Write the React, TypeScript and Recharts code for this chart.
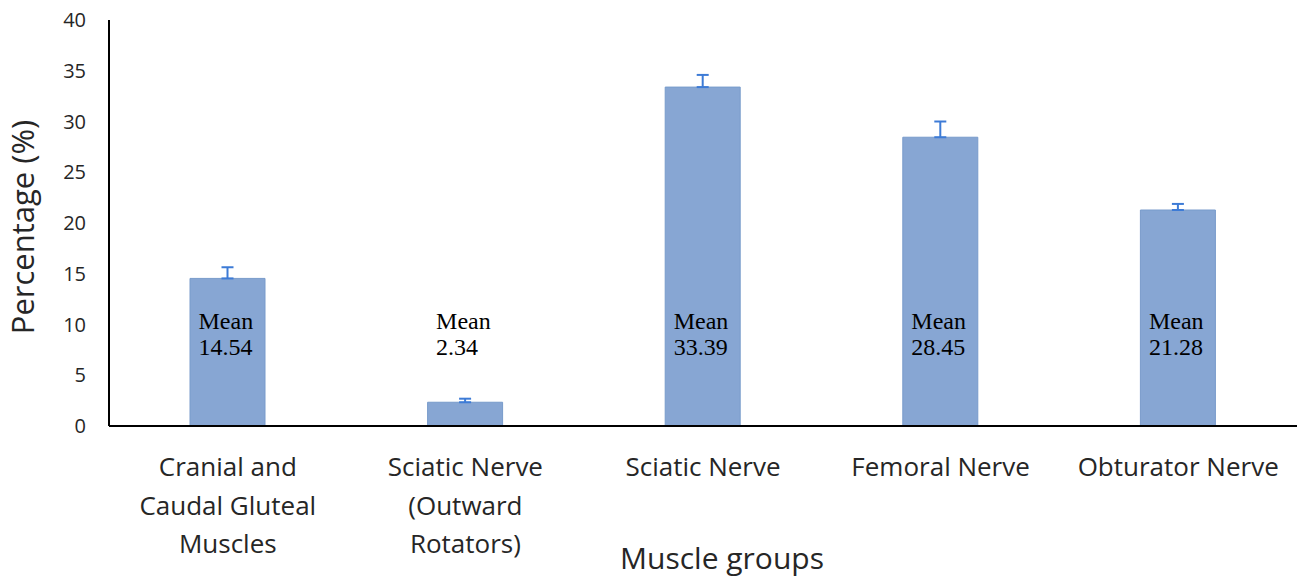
import { BarChart, Bar, XAxis, YAxis, ErrorBar, LabelList } from 'recharts';

// Muscle groups (x categories), one array per tick line
const groups: string[][] = [
  ['Cranial and', 'Caudal Gluteal', 'Muscles'],
  ['Sciatic Nerve', '(Outward', 'Rotators)'],
  ['Sciatic Nerve'],
  ['Femoral Nerve'],
  ['Obturator Nerve'],
];
const means = [14.54, 2.34, 33.39, 28.45, 21.28];
const errors = [1.1, 0.35, 1.2, 1.55, 0.6]; // upper error only
const yTicks = [0, 5, 10, 15, 20, 25, 30, 35, 40];

const data = groups.map((g, i) => ({
  name: g.join(' '),
  mean: means[i],
  err: [0, errors[i]],
}));

const SANS = '"Open Sans", sans-serif';

function GroupTick(props: any) {
  const { x, y, payload } = props;
  const lines = groups[payload.index] || [];
  return (
    <text x={x} y={y + 48} textAnchor="middle" fill="#262626" fontSize={26} fontFamily={SANS}>
      {lines.map((l, i) => (
        <tspan key={i} x={x} dy={i === 0 ? 0 : 38.5}>{l}</tspan>
      ))}
    </text>
  );
}

function MeanLabel(props: any) {
  const { x, y, width, height, value } = props;
  const base = y + height;
  const left = x + width / 2 - 29;
  return (
    <text fill="#000" fontSize={24} fontFamily='"Liberation Serif", serif'>
      <tspan x={left} y={base - 97}>Mean</tspan>
      <tspan x={left} y={base - 71}>{value.toFixed(2)}</tspan>
    </text>
  );
}

export default function App() {
  return (
    <div style={{ position: 'absolute', left: 0, top: 0, background: '#fff' }}>
      <BarChart width={1300} height={579} data={data} margin={{ top: 20, right: 3, left: 0, bottom: 0 }}>
        <XAxis
          dataKey="name"
          height={153}
          tickSize={0}
          tick={<GroupTick />}
          interval={0}
          axisLine={{ stroke: '#000', strokeWidth: 2 }}
          label={{
            content: ({ viewBox }: any) => (
              <text x={viewBox.x + viewBox.width / 2 + 19} y={viewBox.y + 143} textAnchor="middle"
                fill="#262626" fontSize={30} fontFamily={SANS}>Muscle groups</text>
            ),
          }}
        />
        <YAxis
          width={109}
          domain={[0, 40]}
          ticks={yTicks}
          interval={0}
          tickSize={0}
          tickMargin={23}
          tick={{ fill: '#262626', fontSize: 20, fontFamily: SANS }}
          axisLine={{ stroke: '#000', strokeWidth: 2 }}
          label={{
            content: ({ viewBox }: any) => {
              const cy = viewBox.y + viewBox.height / 2 + 4;
              return (
                <text x={34} y={cy} transform={`rotate(-90 34 ${cy})`} textAnchor="middle"
                  fill="#262626" fontSize={31} fontFamily={SANS}>Percentage (%)</text>
              );
            },
          }}
        />
        <Bar dataKey="mean" barSize={75} fill="#87A6D3" stroke="#789BCB" strokeWidth={1} isAnimationActive={false}>
          <ErrorBar dataKey="err" width={6} stroke="#3D7BD6" strokeWidth={2} direction="y" />
          <LabelList dataKey="mean" content={<MeanLabel />} />
        </Bar>
      </BarChart>
    </div>
  );
}
